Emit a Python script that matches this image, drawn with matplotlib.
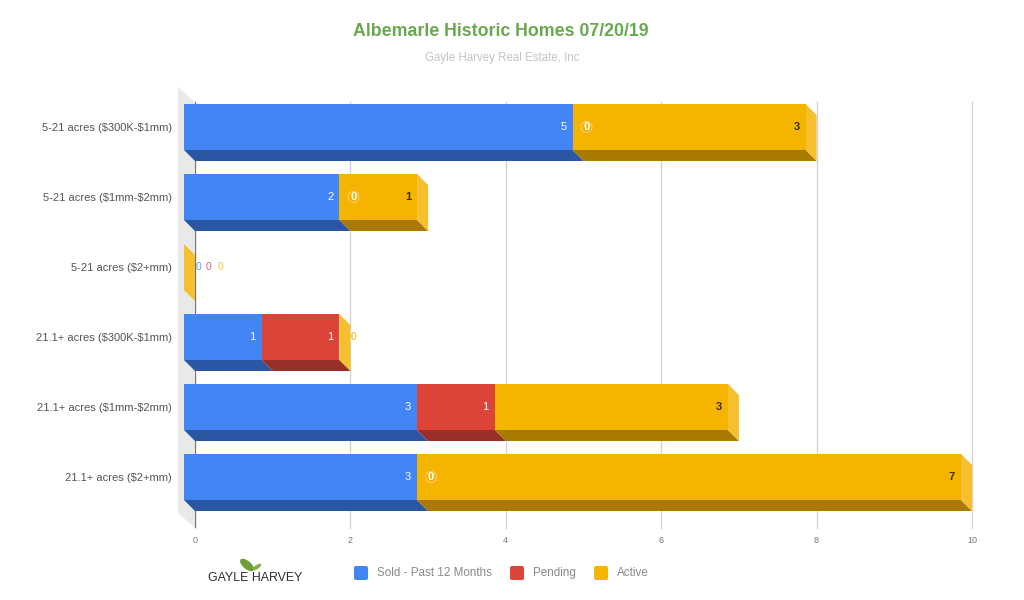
import matplotlib
matplotlib.use("Agg")
import matplotlib.pyplot as plt
from matplotlib.patches import Ellipse, FancyBboxPatch
import numpy as np

plt.rcParams['font.family'] = ['Liberation Sans', 'DejaVu Sans']
plt.rcParams['text.parse_math'] = False

categories = ["5-21 acres ($300K-$1mm)", "5-21 acres ($1mm-$2mm)", "5-21 acres ($2+mm)",
              "21.1+ acres ($300K-$1mm)", "21.1+ acres ($1mm-$2mm)", "21.1+ acres ($2+mm)"]
sold = [5, 2, 0, 1, 3, 3]
pending = [0, 0, 0, 1, 1, 0]
active = [3, 1, 0, 0, 3, 7]
series_names = ["Sold - Past 12 Months", "Pending", "Active"]
x_ticks = [0, 2, 4, 6, 8, 10]

face_colors = ["#4285f4", "#db4437", "#f4b400"]
under_colors = ["#2b56a4", "#992f26", "#a87a00"]
side_color = "#f6bf2e"
W, H = 1024, 600

fig = plt.figure(figsize=(W / 100, H / 100), dpi=100)
# axes box in pixels, top-down: x 195..972, y 102..528
ax = fig.add_axes([195 / W, 1 - 528 / H, 777 / W, 426 / H])
ax.set_xlim(0, 10)
ax.set_ylim((528 - 127) / 70, (102 - 127) / 70)

dx = 11 / 77.7   # depth of the 3d effect in data units
dy = 11 / 70
bar_h = 46 / 70

# left wall
top, bottom = ax.get_ylim()[1], ax.get_ylim()[0]
wall_dx, wall_dy = 17 / 77.7, 15 / 70
ax.fill([-wall_dx, 0, 0, -wall_dx], [top - wall_dy, top, bottom, bottom - wall_dy],
        color="#e9e9e9", lw=0, zorder=1, clip_on=False)

ax.set_xticks(x_ticks)
ax.grid(axis="x", color="#d4d4d4", lw=1, zorder=0, clip_on=False)
ax.set_axisbelow(True)
ax.axvline(0, color="#777777", lw=1.6, zorder=1.5)
for s in ax.spines.values():
    s.set_visible(False)
ax.set_yticks(range(len(categories)), categories)
ax.tick_params(axis="y", length=0, pad=16.5, labelsize=8, labelcolor="#555555")
ax.tick_params(axis="x", length=0, pad=5.6, labelsize=6.5, labelcolor="#777777")

for i in range(len(categories)):
    left = 0
    for j, vals in enumerate([sold, pending, active]):
        v = vals[i]
        y0 = i + bar_h / 2
        if v > 0:
            ax.barh(i, v, left=left - dx, height=bar_h, color=face_colors[j], zorder=3, lw=0,
                    clip_on=False)
            ax.fill([left - dx, left + v - dx, left + v, left], [y0, y0, y0 + dy, y0 + dy],
                    color=under_colors[j], lw=0, zorder=2.5, clip_on=False)
        left += v
    # right end of the stack
    yt = i - bar_h / 2
    ax.fill([left - dx, left, left, left - dx], [yt, yt + dy, yt + bar_h + dy, yt + bar_h],
            color=side_color, lw=0, zorder=2.8, clip_on=False)
    # value labels
    total = left
    left = 0
    for j, vals in enumerate([sold, pending, active]):
        v = vals[i]
        left += v
        if v > 0:
            ax.text(left - dx - 6 / 77.7, i, str(v), ha="right", va="center", fontsize=8,
                    color="white" if j < 2 else "#3d2f00", fontweight="normal" if j < 2 else "bold",
                    zorder=5)
        elif total == 0:
            ax.text((3 + 11 * j) / 77.7, i, "0", ha="center", va="center", fontsize=7.5,
                    color=face_colors[j], alpha=0.8, zorder=5)
        elif left == total:
            ax.text(left - dx + 14 / 77.7, i, "0", ha="center", va="center", fontsize=7.5,
                    color=face_colors[j], zorder=5, clip_on=False)
        else:
            ax.text(left - dx + 14 / 77.7, i, "0", ha="center", va="center", fontsize=8,
                    color="white", fontweight="bold", zorder=5,
                    bbox=dict(boxstyle="circle,pad=0.05", fc="none", ec="#f7d9b0", lw=0.5))

fig.text(501 / W, 1 - 32 / H, "Albemarle Historic Homes 07/20/19", ha="center", va="center",
         fontsize=12.8, fontweight="bold", color="#6aa84f")
fig.text(502 / W, 1 - 58 / H, "Gayle Harvey Real Estate, Inc", ha="center", va="center",
         fontsize=8.3, color="#c4c4c4")

# legend, placed by pixel like the original
legend_x = [354, 510, 594]
for x, name, c in zip(legend_x, series_names, face_colors):
    fig.add_artist(FancyBboxPatch((x + 1, H - 579), 12, 12, boxstyle="round,pad=1,rounding_size=2",
                                  transform=None, fc=c, ec="none"))
    fig.text((x + 23) / W, 1 - 573 / H, name, ha="left", va="center", fontsize=8.4, color="#8a8a8a")

# logo
fig.text(255 / W, 1 - 578 / H, "GAYLE HARVEY", ha="center", va="center", fontsize=8.9, color="#2e2e2e")
fig.add_artist(Ellipse((247, H - 565), 17, 8, angle=-40, transform=None, fc="#6f9e3a", ec="none"))
fig.add_artist(Ellipse((257, H - 567), 10, 4, angle=35, transform=None, fc="#86b04a", ec="none"))

fig.savefig("out.png", dpi=100)
